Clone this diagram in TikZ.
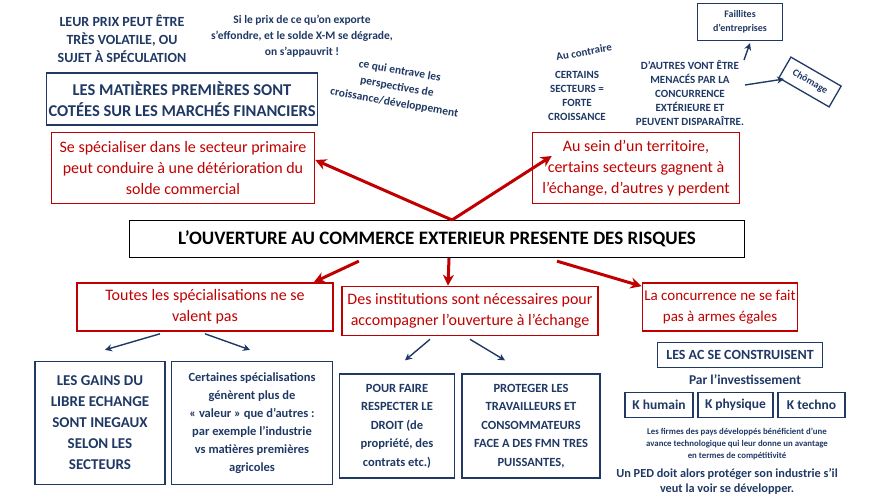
\documentclass[tikz,border=0pt]{standalone}
\usepackage{fontspec}
\setmainfont{Carlito}
\usetikzlibrary{positioning,arrows.meta}
\definecolor{bleu}{HTML}{1F3864}
\definecolor{rouge}{HTML}{C00000}
\tikzset{
  bleubox/.style={draw=bleu,line width=1.3pt,text=bleu,font=\bfseries,align=center,inner sep=2pt},
  rougebox/.style={draw=rouge,line width=1.6pt,text=rouge,align=center,inner sep=2pt},
  bleutxt/.style={text=bleu,font=\bfseries,align=center,inner sep=1pt},
  rougefl/.style={draw=rouge,line width=3pt,-{Stealth[length=11pt,width=11pt]}},
  bleufl/.style={draw=bleu,line width=1.4pt,-{Stealth[length=7pt,width=7pt]}}
}
\begin{document}
\begin{tikzpicture}[x=1pt,y=-1pt]
\useasboundingbox (0,0) rectangle (874,500);

% haut gauche
\node (prix) [bleutxt,font=\bfseries\fontsize{14}{18}\selectfont] at (122,39) {LEUR PRIX PEUT ÊTRE\\TRÈS VOLATILE, OU\\SUJET À SPÉCULATION};
\node (solde) [bleutxt,font=\bfseries\fontsize{11.5}{16}\selectfont] at (302,36) {Si le prix de ce qu’on exporte\\s’effondre, et le solde X-M se dégrade,\\on s’appauvrit !};
\node (entrave) [bleutxt,font=\bfseries\fontsize{11.5}{16}\selectfont,rotate=-10] at (397,87) {ce qui entrave les\\perspectives de\\croissance/développement};
\node (mp) [bleubox,minimum width=265,minimum height=52,font=\bfseries\fontsize{16.5}{21}\selectfont] at (182,99) {LES MATIÈRES PREMIÈRES SONT\\COTÉES SUR LES MARCHÉS FINANCIERS};
\node (prim) [rougebox,minimum width=263,minimum height=71,font=\fontsize{16}{21}\selectfont] at (183,168) {Se spécialiser dans le secteur primaire\\peut conduire à une détérioration du\\solde commercial};

% haut droite
\node (terr) [rougebox,minimum width=207,minimum height=71,font=\fontsize{16}{21}\selectfont] at (636,168) {Au sein d’un territoire,\\certains secteurs gagnent à\\l’échange, d’autres y perdent};
\node (contraire) [bleutxt,font=\bfseries\fontsize{11}{13}\selectfont,rotate=10] at (584,52) {Au contraire};
\node (forte) [bleutxt,font=\bfseries\fontsize{11}{14}\selectfont] at (577,96) {CERTAINS\\SECTEURS =\\FORTE\\CROISSANCE};
\node (autres) [bleutxt,font=\bfseries\fontsize{11}{14}\selectfont] at (690,93) {D’AUTRES VONT ÊTRE\\MENACÉS PAR LA\\CONCURRENCE\\EXTÉRIEURE ET\\PEUVENT DISPARAÎTRE.};
\node (faill) [bleubox,minimum width=85,minimum height=37,font=\bfseries\fontsize{10}{14}\selectfont] at (740,22) {Faillites\\d’entreprises};
\node (chom) [bleubox,minimum width=58,minimum height=24,font=\bfseries\fontsize{10}{12}\selectfont,rotate=-30] at (810,82) {Chômage};
\coordinate (a1) at (744,60);
\coordinate (a2) at (745,85);
\coordinate (a3) at (784,79);
\draw[bleufl] (a1) -- ([xshift=10,yshift=-2]faill.south);
\draw[bleufl] (a2) -- (a3);

% titre
\node (titre) [draw=black,line width=1.3pt,minimum width=615,minimum height=37,font=\bfseries\fontsize{19}{22}\selectfont] at (437,239) {L’OUVERTURE AU COMMERCE EXTERIEUR PRESENTE DES RISQUES};
\coordinate (c) at (452,220);
\draw[rougefl] (c) -- ([yshift=8]prim.east);
\draw[rougefl] (c) -- ([xshift=20,yshift=12]terr.west);

% bas
\node (toutes) [rougebox,minimum width=256,minimum height=48,font=\fontsize{16}{21}\selectfont] at (205,307) {Toutes les spécialisations ne se\\valent pas};
\node (instit) [rougebox,minimum width=256,minimum height=49,font=\fontsize{16}{21}\selectfont] at (470,311) {Des institutions sont nécessaires pour\\accompagner l’ouverture à l’échange};
\node (conc) [rougebox,minimum width=140,minimum height=48,font=\fontsize{15}{21}\selectfont] at (720,307) {La concurrence ne se fait\\pas à armes égales};
\draw[rougefl] (titre.south west) ++(230,3) coordinate (b1) -- ([xshift=-20]toutes.north east);
\draw[rougefl] (titre.south) ++(12,0) coordinate (b2) -- ([xshift=-22]instit.north);
\draw[rougefl] (titre.south) ++(120,3) coordinate (b3) -- ([yshift=-4]conc.north west);

\node (gains) [bleubox,minimum width=130,minimum height=123,font=\bfseries\fontsize{15}{21}\selectfont] at (100,423) {LES GAINS DU\\LIBRE ECHANGE\\SONT INEGAUX\\SELON LES\\SECTEURS};
\node (valeur) [bleubox,minimum width=161,minimum height=123,font=\bfseries\fontsize{12.5}{18}\selectfont] at (252,423) {Certaines spécialisations\\génèrent plus de\\« valeur » que d’autres :\\par exemple l’industrie\\vs matières premières\\agricoles};
\node (droit) [bleubox,minimum width=115,minimum height=104,font=\bfseries\fontsize{12.5}{18.5}\selectfont] at (397,426) {POUR FAIRE\\RESPECTER LE\\DROIT (de\\propriété, des\\contrats etc.)};
\node (proteg) [bleubox,minimum width=138,minimum height=104,font=\bfseries\fontsize{12.5}{18.5}\selectfont] at (531,426) {PROTEGER LES\\TRAVAILLEURS ET\\CONSOMMATEURS\\FACE A DES FMN TRES\\PUISSANTES,};
\draw[bleufl] ([xshift=-45,yshift=-2]toutes.south) -- ([xshift=5,yshift=11]gains.north);
\draw[bleufl] ([yshift=-2]toutes.south) -- ([xshift=-2,yshift=11]valeur.north);
\draw[bleufl] ([xshift=-40,yshift=-3]instit.south) -- ([xshift=8,yshift=13]droit.north);
\draw[bleufl] ([yshift=-3]instit.south) -- ([xshift=-26,yshift=13]proteg.north);

\node (ac) [bleubox,minimum width=165,minimum height=25,font=\bfseries\fontsize{14}{16}\selectfont] at (740,355) {LES AC SE CONSTRUISENT};
\node (invest) [bleutxt,font=\bfseries\fontsize{13.5}{16}\selectfont] at (745,380) {Par l’investissement};
\node (khum) [bleubox,minimum width=68,minimum height=25,font=\bfseries\fontsize{13.5}{16}\selectfont] at (659,405) {K humain};
\node (kphy) [bleubox,minimum width=75,minimum height=25,font=\bfseries\fontsize{13.5}{16}\selectfont] at (735.5,405) {K physique};
\node (ktec) [bleubox,minimum width=67,minimum height=25,font=\bfseries\fontsize{13.5}{16}\selectfont] at (811.5,405) {K techno};
\node (firmes) [bleutxt,font=\bfseries\fontsize{8.8}{12}\selectfont] at (737,444) {Les firmes des pays développés bénéficient d’une\\avance technologique qui leur donne un avantage\\en termes de compétitivité};
\node (ped) [bleutxt,font=\bfseries\fontsize{12.3}{15}\selectfont] at (727,481) {Un PED doit alors protéger son industrie s’il\\veut la voir se développer.};
\end{tikzpicture}
\end{document}
